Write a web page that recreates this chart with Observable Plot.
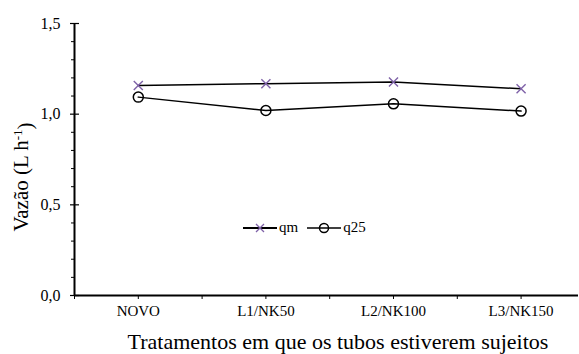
<!DOCTYPE html>
<html>
<head>
<meta charset="utf-8">
<script src="https://cdn.jsdelivr.net/npm/d3@7"></script>
<script src="https://cdn.jsdelivr.net/npm/@observablehq/plot@0.6"></script>
<style>
  html, body { margin: 0; padding: 0; background: #fff; }
  #wrap { position: relative; width: 579px; height: 354px; font-family: "Liberation Serif", "Times New Roman", serif; }
  #legend { position: absolute; left: 242px; top: 219px; display: flex; align-items: center; font-size: 15px; color: #000; }
  #legend .item { display: flex; align-items: center; margin-right: 8px; }
  #legend svg { display: block; }
</style>
</head>
<body>
<div id="wrap"></div>
<script>
const categories = ["NOVO", "L1/NK50", "L2/NK100", "L3/NK150"];
const qm  = [1.158, 1.168, 1.177, 1.140];
const q25 = [1.094, 1.020, 1.057, 1.017];
const yMajorTicks = [0, 0.5, 1.0, 1.5];
const yMinorTicks = [0.1, 0.2, 0.3, 0.4, 0.6, 0.7, 0.8, 0.9, 1.1, 1.2, 1.3, 1.4];
const xTitle = "Tratamentos em que os tubos estiverem sujeitos";
const yTitle = "Vazão (L h-1)";

const FONT = `"Liberation Serif", "Times New Roman", serif`;
const fmt = d => d.toFixed(1).replace(".", ",");
const rows = [];
categories.forEach((c, i) => {
  rows.push({series: "qm", idx: i + 1, cat: c, value: qm[i]});
  rows.push({series: "q25", idx: i + 1, cat: c, value: q25[i]});
});
const xDomain = [0.5, 4.45];
const xTicks = d3.range(0.5, 4.01, 0.5);
const purple = "#7f62a8";

const chart = Plot.plot({
  width: 579,
  height: 354,
  marginLeft: 74,
  marginRight: 1,
  marginTop: 23,
  marginBottom: 59,
  style: {fontFamily: FONT, fontSize: "15px", color: "#000", background: "#fff"},
  x: {domain: xDomain, type: "linear"},
  y: {domain: [0, 1.5]},
  marks: [
    Plot.axisY({ticks: yMinorTicks, tickSize: 3, tickFormat: () => "", label: null, strokeWidth: 1}),
    Plot.axisY({ticks: yMajorTicks, tickSize: 4, tickFormat: () => "", label: null, strokeWidth: 1.2}),
    Plot.axisY({ticks: yMajorTicks, tickSize: -5, tickFormat: () => "", label: null, strokeWidth: 1.2}),
    Plot.axisY({ticks: yMajorTicks, tickSize: 0, tickPadding: 14, tickFormat: fmt, label: null, fontSize: 16}),
    Plot.axisX({ticks: xTicks, tickSize: 4, tickFormat: () => "", label: null, strokeWidth: 1}),
    Plot.axisX({ticks: [1, 2, 3, 4], tickSize: 0, tickPadding: 10, tickFormat: d => categories[d - 1], label: null, fontSize: 15}),
    Plot.ruleX([xDomain[0]], {stroke: "#000", strokeWidth: 2}),
    Plot.ruleY([0], {stroke: "#000", strokeWidth: 2}),
    Plot.line(rows, {x: "idx", y: "value", z: "series", stroke: "#000", strokeWidth: 1.5}),
    Plot.dot(rows.filter(d => d.series === "qm"), {x: "idx", y: "value", symbol: "times", r: 4.2, stroke: purple, strokeWidth: 1.4}),
    Plot.dot(rows.filter(d => d.series === "q25"), {x: "idx", y: "value", symbol: "circle", r: 5, stroke: "#000", fill: "none", strokeWidth: 1.5}),
    Plot.text([xTitle], {frameAnchor: "bottom", fontSize: 22}),
    Plot.text([yTitle], {frameAnchor: "left", fontSize: 21})
  ]
});

// place titles
d3.select(chart).selectAll("text").each(function() {
  const t = d3.select(this);
  const s = t.text();
  if (s === yTitle) {
    d3.select(this.parentNode).attr("transform", null);
    t.attr("x", null).attr("y", null).attr("dy", null).attr("text-anchor", "middle")
      .attr("transform", "translate(28,177) rotate(-90)");
    t.text(null);
    t.append("tspan").text("Vazão (L h");
    t.append("tspan").attr("dy", "-0.45em").attr("font-size", "13px").text("-1");
    t.append("tspan").attr("dy", "0.45em").text(")");
  } else if (s === xTitle) {
    d3.select(this.parentNode).attr("transform", null);
    t.attr("x", 338).attr("y", 349).attr("dy", null).attr("text-anchor", "middle").attr("transform", null);
  }
});

const wrap = document.getElementById("wrap");
wrap.appendChild(chart);

const legend = d3.select(wrap).append("div").attr("id", "legend");
const items = [{name: "qm", symbol: "x"}, {name: "q25", symbol: "o"}];
items.forEach(it => {
  const item = legend.append("div").attr("class", "item");
  const s = item.append("svg").attr("width", 36).attr("height", 16);
  s.append("line").attr("x1", 1).attr("x2", 35).attr("y1", 8).attr("y2", 8).attr("stroke", "#000").attr("stroke-width", it.symbol === "x" ? 2 : 1.5);
  if (it.symbol === "x") {
    s.append("path").attr("d", "M14,4L22,12M22,4L14,12").attr("stroke", purple).attr("stroke-width", 1.3);
  } else {
    s.append("circle").attr("cx", 18).attr("cy", 8).attr("r", 4.5).attr("fill", "none").attr("stroke", "#000").attr("stroke-width", 1.5);
  }
  item.append("span").style("margin-left", "1px").text(it.name);
});
</script>
</body>
</html>
